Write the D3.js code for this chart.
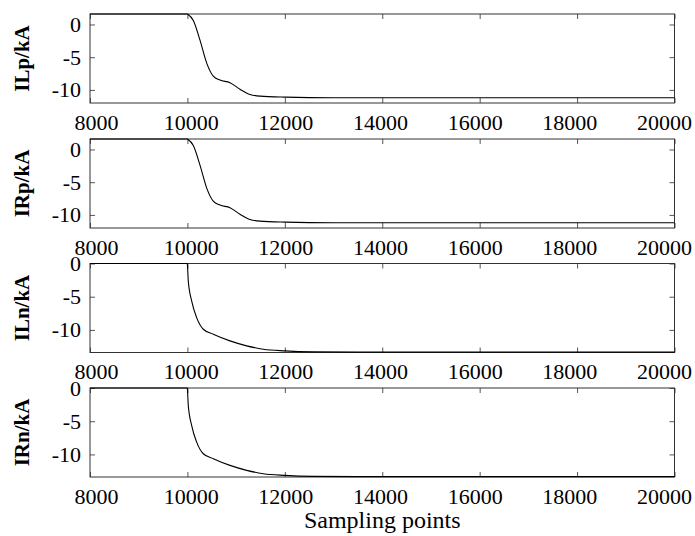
<!DOCTYPE html>
<html>
<head>
<meta charset="utf-8">
<script src="https://cdn.jsdelivr.net/npm/d3@7/dist/d3.min.js"></script>
<style>
  body { margin: 0; background: #fff; }
  svg text { font-family: "Liberation Serif", "Times New Roman", serif !important; fill: #000; }
</style>
</head>
<body>
<svg id="chart" width="695" height="536"></svg>
<script>
// tick values
var xTicks = [8000, 10000, 12000, 14000, 16000, 18000, 20000];
var yTicks = [0, -5, -10];

// panel titles (y labels)
var panelLabels = ["ILp/kA", "IRp/kA", "ILn/kA", "IRn/kA"];

// positive pole currents (ILp, IRp look the same)
var posSamples = [8000, 9995, 10006, 10121, 10258, 10396, 10531, 10669, 10874, 11079, 11285, 11490, 12003, 13000, 20000];
var posCurrent = [1.6, 1.6, 1.55, 0.6, -2.4, -5.9, -7.9, -8.5, -8.9, -9.9, -10.7, -10.95, -11.1, -11.2, -11.2];

// negative pole currents (ILn, IRn)
var negSamples = [8000, 9997, 10000, 10018, 10088, 10190, 10326, 10531, 10874, 11217, 11558, 12003, 12584, 13500, 20000];
var negCurrent = [0, 0, -0.2, -2.65, -5.65, -8.15, -9.9, -10.65, -11.65, -12.4, -12.9, -13.15, -13.3, -13.35, -13.35];

var posDomain = [-12, 1.6];
var negDomain = [-13.4, 0];

var svg = d3.select("#chart");
var left = 90, right = 674.5, panelH = 89;
var tops = [14, 139, 263.5, 388];

var x = d3.scaleLinear().domain([8000, 20000]).range([left, right]);
// tick labels sit a little inside the end ticks in the original
var xl = d3.scaleLinear().domain([8000, 20000]).range([96, 664]);

var panels = [
  { xs: posSamples, ys: posCurrent, dom: posDomain },
  { xs: posSamples, ys: posCurrent, dom: posDomain },
  { xs: negSamples, ys: negCurrent, dom: negDomain },
  { xs: negSamples, ys: negCurrent, dom: negDomain }
];

panels.forEach(function(p, i) {
  var top = tops[i], bottom = top + panelH;
  var y = d3.scaleLinear().domain(p.dom).range([bottom, top]);
  var g = svg.append("g");

  // tick marks point inward on all four sides
  g.append("g").attr("transform", "translate(0," + bottom + ")")
    .call(d3.axisBottom(x).tickValues(xTicks).tickSizeInner(-5).tickSizeOuter(0).tickFormat(""));
  g.append("g").attr("transform", "translate(0," + top + ")")
    .call(d3.axisTop(x).tickValues(xTicks).tickSizeInner(-5).tickSizeOuter(0).tickFormat(""));
  var ay = g.append("g").attr("transform", "translate(" + left + ",0)")
    .call(d3.axisLeft(y).tickValues(yTicks).tickSizeInner(-5).tickSizeOuter(0).tickPadding(9)
      .tickFormat(function(d) { return d === 0 ? "0" : "-" + Math.abs(d); }));
  g.append("g").attr("transform", "translate(" + right + ",0)")
    .call(d3.axisRight(y).tickValues(yTicks).tickSizeInner(-5).tickSizeOuter(0).tickFormat(""));

  // x tick labels
  var lab = g.append("g").attr("transform", "translate(0," + bottom + ")")
    .call(d3.axisBottom(xl).tickValues(xTicks).tickSize(0).tickPadding(11).tickFormat(d3.format("d")));
  lab.select(".domain").remove();

  g.selectAll(".domain").remove();
  g.selectAll("g").attr("font-family", "Liberation Serif, Times New Roman, serif").attr("font-size", 22);
  g.selectAll(".tick line").attr("stroke", "#555");
  g.selectAll(".tick text").attr("fill", "#000");

  // frame
  g.append("rect").attr("x", left).attr("y", top)
    .attr("width", right - left).attr("height", panelH)
    .attr("fill", "none").attr("stroke", "#333").attr("stroke-width", 1);

  // data line
  var line = d3.line()
    .x(function(d, j) { return x(p.xs[j]); })
    .y(function(d, j) { return y(p.ys[j]); })
    .curve(d3.curveMonotoneX);
  g.append("path").datum(p.xs).attr("d", line)
    .attr("fill", "none").attr("stroke", "#000").attr("stroke-width", 1.1);

  // y title
  g.append("text")
    .attr("transform", "translate(29," + (top + panelH / 2) + ") rotate(-90)")
    .attr("text-anchor", "middle")
    .attr("font-size", 21).attr("font-weight", "bold")
    .text(panelLabels[i]);
});

svg.append("text")
  .attr("x", (left + right) / 2).attr("y", 528)
  .attr("text-anchor", "middle").attr("font-size", 24)
  .text("Sampling points");
</script>
</body>
</html>
